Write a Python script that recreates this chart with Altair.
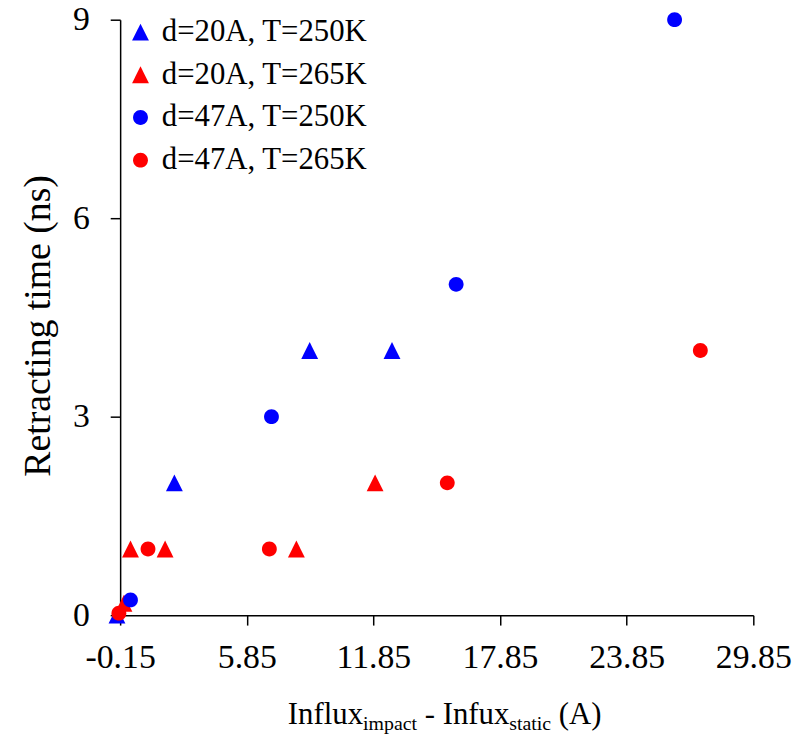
import altair as alt
import pandas as pd

series_names = ["d=20A, T=250K", "d=20A, T=265K", "d=47A, T=250K", "d=47A, T=265K"]
series_colors = ["#0000FF", "#FF0000", "#0000FF", "#FF0000"]

s1_x = [-0.3, 2.42, 8.83, 12.73]
s1_y = [0.0, 2.0, 4.0, 4.0]
s2_x = [0.03, 0.34, 1.98, 8.20, 11.93]
s2_y = [0.18, 1.0, 1.0, 1.0, 2.0]
s3_x = [0.34, 7.02, 15.77, 26.12]
s3_y = [0.23, 3.0, 5.0, 9.0]
s4_x = [-0.21, 1.17, 6.92, 15.35, 27.34]
s4_y = [0.03, 1.0, 1.0, 2.0, 4.0]

x_ticks = [-0.15, 5.85, 11.85, 17.85, 23.85, 29.85]
y_ticks = [0, 3, 6, 9]

title_parts = ["Influx", "impact", "-", "Infux", "static", "(A)"]

rows = []
for name, xs, ys in zip(series_names, [s1_x, s2_x, s3_x, s4_x], [s1_y, s2_y, s3_y, s4_y]):
    for xv, yv in zip(xs, ys):
        rows.append({"series": name, "x": xv, "y": yv})
df = pd.DataFrame(rows)

tri = "M0,-1L1,1L-1,1Z"
circ = "M0.88,0A0.88,0.88,0,1,1,-0.88,0A0.88,0.88,0,1,1,0.88,0Z"

FONT = "Liberation Serif"

leg = alt.Legend(
    title=None, orient="none", legendX=5, legendY=-3, padding=0,
    labelFont=FONT, labelFontSize=31, labelColor="black", labelOffset=6,
    labelLimit=0, symbolSize=289, rowPadding=11, symbolStrokeWidth=0, symbolOpacity=1,
)

points = alt.Chart(df).mark_point(filled=True, size=289, opacity=1, strokeWidth=0).encode(
    x=alt.X("x:Q", scale=alt.Scale(domain=[-0.15, 29.85], nice=False, zero=False),
            axis=alt.Axis(values=x_ticks, title=None, labelFontSize=34,
                          labelExpr="datum.value < 0 ? '-' + format(-datum.value, '.2f') : format(datum.value, '.2f')",
                          labelPadding=16, labelFlush=False)),
    y=alt.Y("y:Q", scale=alt.Scale(domain=[0, 9], nice=False, zero=False),
            axis=alt.Axis(values=y_ticks, format="d", title="Retracting time (ns)",
                          labelFontSize=34, labelPadding=21, titleX=-82, titleY=308,
                          titleAngle=270, titleAlign="center", titleBaseline="middle",
                          titleFont=FONT, titleFontSize=38, titleFontWeight="normal",
                          titleColor="black")),
    color=alt.Color("series:N", scale=alt.Scale(domain=series_names, range=series_colors), legend=leg),
    shape=alt.Shape("series:N", scale=alt.Scale(domain=series_names, range=[tri, tri, circ, circ]), legend=leg),
)

main_size = 31
sub_size = 20
main_y = 710
sub_y = 716
part_specs = [
    (title_parts[0], 169, main_y, main_size, "left"),
    (title_parts[1], 244.8, sub_y, sub_size, "left"),
    (title_parts[2], 312.1, main_y, main_size, "center"),
    (title_parts[3], 325, main_y, main_size, "left"),
    (title_parts[4], 392.1, sub_y, sub_size, "left"),
    (title_parts[5], 442, main_y, main_size, "left"),
]
texts = []
for t, px, py, fs, al in part_specs:
    texts.append(
        alt.Chart(pd.DataFrame({"t": [t]})).mark_text(
            font=FONT, fontSize=fs, align=al, baseline="alphabetic", color="black"
        ).encode(text="t:N", x=alt.value(px), y=alt.value(py))
    )

chart = alt.layer(points, *texts).properties(
    width=638, height=600,
    autosize=alt.AutoSizeParams(type="none"),
    padding={"left": 113, "top": 9, "right": 41, "bottom": 122},
).configure_axis(
    labelFont=FONT, labelColor="black", domainColor="black", tickColor="black",
    domainWidth=1.5, tickWidth=1.5, tickSize=10, grid=False,
).configure_view(stroke=None)

chart.save("out.html", embed_options={"renderer": "svg", "actions": False})
